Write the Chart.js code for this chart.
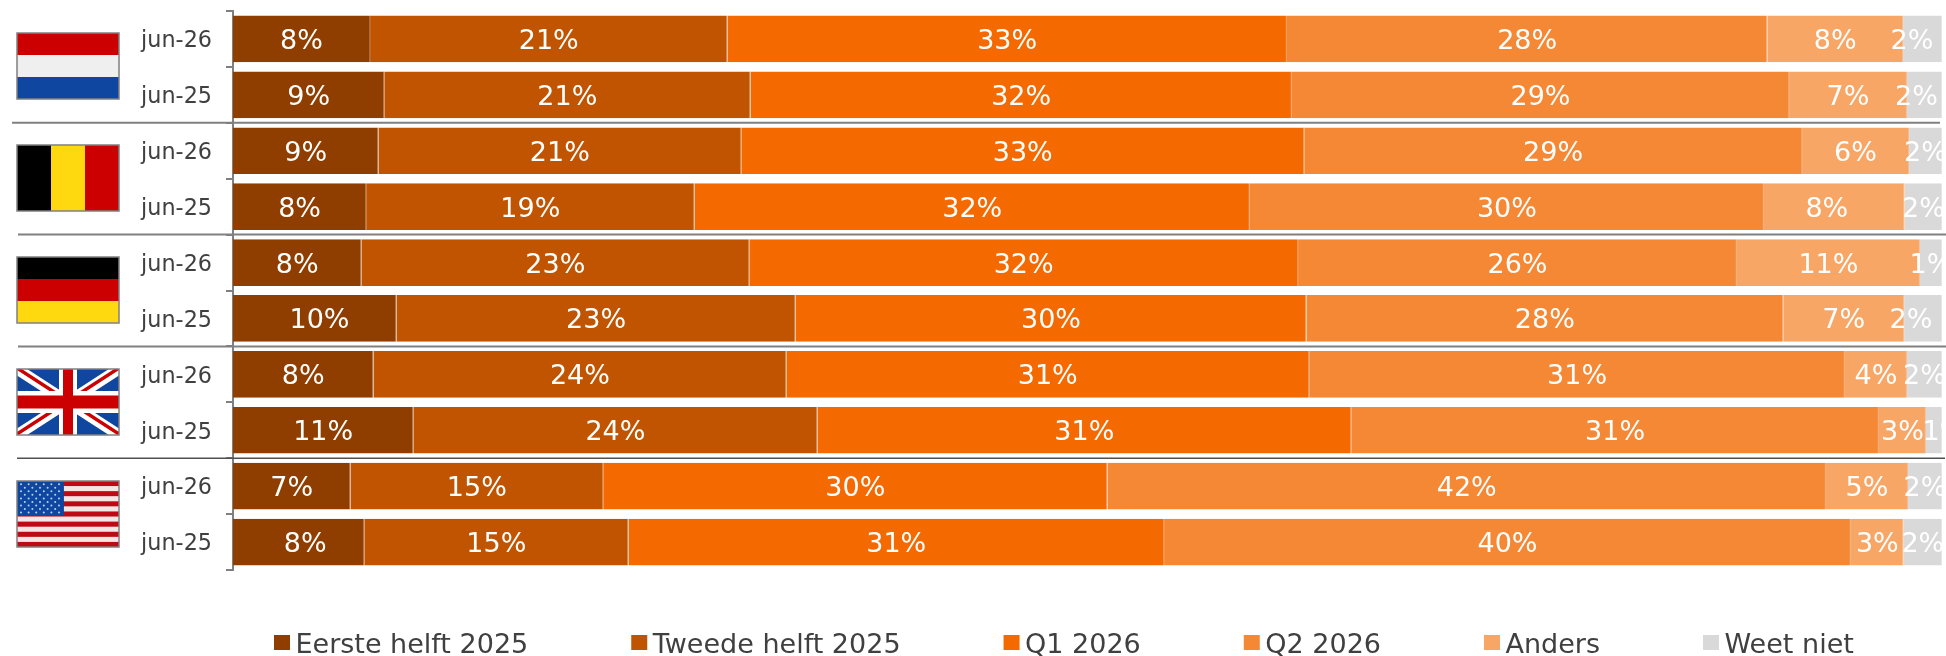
<!DOCTYPE html>
<html>
<head>
<meta charset="utf-8">
<style>html,body{margin:0;padding:0;background:#fff;overflow:hidden}canvas{display:block}</style>
<script src="https://cdn.jsdelivr.net/npm/chart.js@4"></script>
</head>
<body>
<canvas id="c" width="1946" height="656"></canvas>
<script>
const categories = ['jun-26','jun-25','jun-26','jun-25','jun-26','jun-25','jun-26','jun-25','jun-26','jun-25'];
const eersteHelft2025 = [8.02, 8.85, 8.51, 7.79, 7.51, 9.57, 8.22, 10.55, 6.88, 7.68];
const tweedeHelft2025 = [20.91, 21.43, 21.23, 19.22, 22.70, 23.35, 24.16, 23.65, 14.78, 15.46];
const q12026 = [32.74, 31.68, 32.94, 32.49, 32.11, 29.89, 30.59, 31.23, 29.51, 31.34];
const q22026 = [28.11, 29.09, 29.13, 30.08, 25.68, 27.90, 31.35, 30.88, 42.04, 40.19];
const anders = [7.94, 6.90, 6.26, 8.24, 10.71, 7.07, 3.63, 2.75, 4.80, 3.09];
const weetNiet = [2.28, 2.05, 1.93, 2.18, 1.29, 2.22, 2.05, 0.94, 1.99, 2.24];
const seriesNames = ['Eerste helft 2025','Tweede helft 2025','Q1 2026','Q2 2026','Anders','Weet niet'];
const seriesValues = [eersteHelft2025, tweedeHelft2025, q12026, q22026, anders, weetNiet];
const seriesColors = ['#8F3E00','#C05400','#F46A00','#F58835','#F7A666','#D9D9D9'];
const seriesEdges  = ['#A9683A','#CF7F3C','#F7914A','#F7A266','#F9BA8A','#E6E6E6'];
const FONT = '"DejaVu Sans"';
const flagNames = ['nl','be','de','uk','us'];
function labelShift(series,row){
  const key=series+':'+row;
  const moved={'0:5':4.7,'0:9':6.5,'4:3':-7.5,'5:0':-10.5,'5:1':-8,'5:5':-12,'5:7':10};
  return moved[key]||0;
}

const RED='#CC0000', WHITE='#EFEFEF', BLUE='#0F47A0', YEL='#FFD90F';
function drawFlag(ctx, name, x, y, w, h){
  ctx.save();
  ctx.beginPath(); ctx.rect(x,y,w,h); ctx.clip();
  if(name==='nl'){
    [RED,WHITE,BLUE].forEach((c,i)=>{ctx.fillStyle=c;ctx.fillRect(x,y+i*h/3,w,h/3+0.5);});
  } else if(name==='be'){
    ['#000',YEL,RED].forEach((c,i)=>{ctx.fillStyle=c;ctx.fillRect(x+i*w/3,y,w/3+0.5,h);});
  } else if(name==='de'){
    ['#000',RED,YEL].forEach((c,i)=>{ctx.fillStyle=c;ctx.fillRect(x,y+i*h/3,w,h/3+0.5);});
  } else if(name==='uk'){
    ctx.fillStyle=BLUE;ctx.fillRect(x,y,w,h);
    const diag=(lw,col,off)=>{
      ctx.strokeStyle=col;ctx.lineWidth=lw;
      ctx.beginPath();ctx.moveTo(x,y+off);ctx.lineTo(x+w,y+h+off);ctx.moveTo(x,y+h+off);ctx.lineTo(x+w,y+off);ctx.stroke();
    };
    diag(11,'#fff',0);diag(3.5,RED,-1);
    ctx.fillStyle='#fff';
    ctx.fillRect(x+w/2-9,y,18,h);ctx.fillRect(x,y+h/2-11,w,22);
    ctx.fillStyle=RED;
    ctx.fillRect(x+w/2-5,y,10,h);ctx.fillRect(x,y+h/2-6.5,w,13);
  } else if(name==='us'){
    for(let i=0;i<13;i++){ctx.fillStyle=i%2?'#F5E6E6':'#BE0A14';ctx.fillRect(x,y+i*h/13,w,h/13+0.5);}
    ctx.fillStyle=BLUE;ctx.fillRect(x,y,w*0.46,h*7/13-1);
    ctx.fillStyle='#B8D4F5';
    for(let r=0;r<9;r++){
      const n=r%2?5:6;
      for(let k=0;k<n;k++){
        ctx.beginPath();
        ctx.arc(x+4+(r%2?3.8:0)+k*7.6, y+3.2+r*3.55, 1, 0, 7);
        ctx.fill();
      }
    }
  }
  ctx.restore();
  ctx.strokeStyle='#808080';ctx.lineWidth=1.5;ctx.strokeRect(x,y,w,h);
}

const decorations = {
  id:'decorations',
  afterDraw(chart){
    const ctx=chart.ctx, ys=chart.scales.y, area=chart.chartArea;
    const seps=[[12,1940,'#808080',2],[18,1946,'#808080',2],[18,1946,'#808080',2],[17,1945,'#505050',1.5]];
    seps.forEach((s,i)=>{
      const yy=ys.getPixelForValue(1.5+2*i);
      ctx.save();ctx.strokeStyle=s[2];ctx.lineWidth=s[3];
      ctx.beginPath();ctx.moveTo(s[0],yy);ctx.lineTo(s[1],yy);ctx.stroke();ctx.restore();
    });
    flagNames.forEach((f,i)=>{
      const cy=ys.getPixelForValue(0.5+2*i);
      drawFlag(ctx,f,17,Math.round(cy-33.5),102,66);
    });
    ctx.save();
    ctx.beginPath();ctx.rect(area.left,area.top,area.width,area.height);ctx.clip();
    ctx.font='27px '+FONT;ctx.fillStyle='#fff';ctx.textAlign='center';ctx.textBaseline='middle';
    chart.data.datasets.forEach((ds,di)=>{
      chart.getDatasetMeta(di).data.forEach((bar,i)=>{
        ctx.fillText(Math.round(ds.data[i])+'%',(bar.x+bar.base)/2+labelShift(di,i),bar.y+3);
      });
    });
    ctx.restore();
    ctx.save();
    ctx.font='27px '+FONT;ctx.textBaseline='middle';ctx.textAlign='left';
    let x=274;
    chart.data.datasets.forEach(ds=>{
      ctx.fillStyle=ds.backgroundColor;ctx.fillRect(x,635,16,15);
      ctx.fillStyle='#404040';ctx.fillText(ds.label,x+21.5,645.5);
      x+=21.5+ctx.measureText(ds.label).width+103;
    });
    ctx.restore();
  }
};

new Chart(document.getElementById('c'),{
  type:'bar',
  plugins:[decorations],
  data:{
    labels:categories,
    datasets:seriesNames.map((n,i)=>({
      label:n,data:seriesValues[i],backgroundColor:seriesColors[i],
      borderColor:seriesEdges[i],borderWidth:{left:0,top:0,bottom:0,right:1},borderSkipped:false,
      categoryPercentage:1,barPercentage:0.835
    }))
  },
  options:{
    indexAxis:'y',responsive:false,animation:false,devicePixelRatio:1,
    layout:{padding:{top:11,right:4,bottom:86,left:0}},
    plugins:{legend:{display:false},tooltip:{enabled:false}},
    scales:{
      x:{stacked:true,min:0,max:100,display:false},
      y:{
        stacked:true,
        afterFit(s){s.width=233;s.paddingTop=0;s.paddingBottom=0;},
        grid:{drawOnChartArea:false,drawTicks:true,tickLength:7,color:'#808080',lineWidth:2},
        border:{color:'#808080',width:2},
        ticks:{color:'#404040',padding:14,labelOffset:2.5,font:{family:FONT,size:22.3},autoSkip:false,maxRotation:0}
      }
    }
  }
});
</script>
</body>
</html>
